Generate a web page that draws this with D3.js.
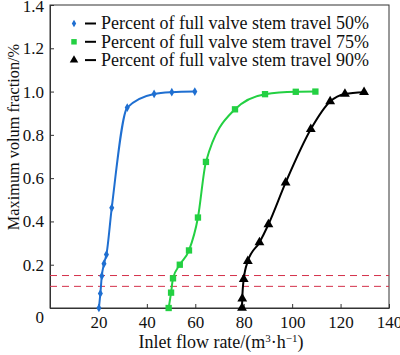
<!DOCTYPE html>
<html><head><meta charset="utf-8">
<script src="https://cdn.jsdelivr.net/npm/d3@7"></script>
<style>body{margin:0;background:#fff}svg{display:block}svg text{font-family:"Liberation Serif","DejaVu Serif",serif}</style>
</head><body>
<script>
const seriesNames = ["Percent of full valve stem travel 50%","Percent of full valve stem travel 75%","Percent of full valve stem travel 90%"];
const x50 = [20.2,20.8,21.4,22.3,23.3,25.5,31.9,43,50.3,59.8];
const y50 = [0,0.067,0.148,0.205,0.247,0.463,0.926,0.989,0.997,1.0];
const x75 = [49,50,50.8,53.6,57.4,61.1,64.4,76.4,88.8,101.5,109.6];
const y75 = [0,0.071,0.137,0.2,0.266,0.418,0.675,0.918,0.988,0.999,1.0];
const x90 = [79.3,79.4,80,81.7,86.5,90.2,97.3,107.7,115.7,121.8,129.7];
const y90 = [0,0.043,0.133,0.216,0.303,0.386,0.579,0.826,0.954,0.989,0.997];
const refLines = [0.15,0.1];
const xTicks = [20,40,60,80,100,120,140];
const yTicks = [0,0.2,0.4,0.6,0.8,1.0,1.2,1.4];
const colors = ["#1f6fd1","#23d042","#000000"];
const symbols = [d3.symbolDiamond, d3.symbolSquare, d3.symbolTriangle];
const symSizes = [22, 40, 42];

const W=400,H=355, m={l:50,r:11,t:5,b:47};
const svg=d3.select("body").append("svg").attr("width",W).attr("height",H);
const x=d3.scaleLinear().domain([0,140]).range([m.l,W-m.r]);
const y=d3.scaleLinear().domain([0,1.4]).range([H-m.b,m.t]);

svg.append("rect").attr("x",x(0)).attr("y",y(1.4)).attr("width",x(140)-x(0)).attr("height",y(0)-y(1.4))
  .attr("fill","none").attr("stroke","#333").attr("stroke-width",1);

const xa=svg.append("g").attr("transform",`translate(0,${y(0)})`)
  .call(d3.axisBottom(x).tickValues(xTicks).tickSizeInner(-4).tickSizeOuter(0).tickPadding(8));
const ya=svg.append("g").attr("transform",`translate(${x(0)},0)`)
  .call(d3.axisLeft(y).tickValues(yTicks).tickSizeInner(-4).tickSizeOuter(0).tickPadding(6)
  .tickFormat(d=>d===0?"0":d3.format(".1f")(d)));
[xa,ya].forEach(a=>{a.attr("font-family",null);a.select(".domain").attr("stroke","#333");a.selectAll(".tick line").attr("stroke","#333");
  a.selectAll("text").style("font-family",'"Liberation Serif","DejaVu Serif",serif').style("font-size","17px").attr("fill","#111");});
ya.selectAll(".tick").filter(d=>d===0).select("text").attr("dy","0.85em");
ya.selectAll(".tick").filter(d=>d===1.4).select("text").attr("dy","0.4em");

svg.selectAll(".ref").data(refLines).enter().append("line")
  .attr("x1",x(0)).attr("x2",x(140)).attr("y1",d=>y(d)).attr("y2",d=>y(d))
  .attr("stroke","#d4304a").attr("stroke-width",1).attr("stroke-dasharray","7,5");

const data=[[x50,y50],[x75,y75],[x90,y90]].map(([xs,ys])=>xs.map((v,i)=>[v,ys[i]]));
const line=d3.line().x(d=>x(d[0])).y(d=>y(d[1])).curve(d3.curveMonotoneX);
data.forEach((pts,i)=>{
  svg.append("path").attr("d",line(pts)).attr("fill","none").attr("stroke",colors[i]).attr("stroke-width",2);
  svg.selectAll(null).data(pts).enter().append("path")
    .attr("d",d3.symbol().type(symbols[i]).size(symSizes[i]))
    .attr("transform",d=>`translate(${x(d[0])},${y(d[1])})`).attr("fill",colors[i]);
});

seriesNames.forEach((n,i)=>{
  const yy=23.5+i*18.3;
  svg.append("path").attr("d",d3.symbol().type(symbols[i]).size(symSizes[i]*0.75)).attr("transform",`translate(74,${yy})`).attr("fill",colors[i]);
  svg.append("line").attr("x1",85).attr("x2",96).attr("y1",yy).attr("y2",yy).attr("stroke","#000").attr("stroke-width",2);
  svg.append("text").attr("x",101).attr("y",yy).attr("dy","0.33em").style("font-size","18px").attr("fill","#111").text(n);
});

svg.append("text").attr("x",221).attr("y",348).attr("text-anchor","middle").style("font-size","18px").attr("fill","#111")
  .html('Inlet flow rate/(m<tspan dy="-6" style="font-size:11px">3</tspan><tspan dy="6">·h</tspan><tspan dy="-6" style="font-size:11px">−1</tspan><tspan dy="6">)</tspan>');
svg.append("text").attr("transform",`translate(13,137) rotate(-90)`).attr("text-anchor","middle").style("font-size","16.3px").attr("fill","#111")
  .attr("dy","0.35em").text("Maximum volum fraction/%");
</script>
</body></html>
